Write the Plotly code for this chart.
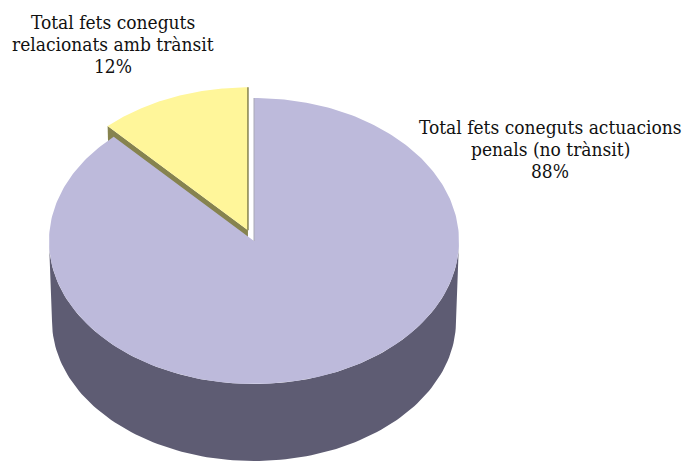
import math
import plotly.graph_objects as go

# Slices, clockwise from 12 o'clock
labels = ["Total fets coneguts actuacions<br>penals (no trànsit)",
          "Total fets coneguts<br>relacionats amb trànsit"]
values = [88, 12]
top_colors = ["#BDBADB", "#FFF69A"]
side_colors = ["#5E5C73", "#86834F"]
explode = [0.0, 0.08]

W, H = 687, 461
CX, CY = 254, 241          # centre of the top face
RX, RY = 205, 143          # top ellipse radii
DEPTH = 80                 # cylinder height
RXB, RYB = 202, 140        # slightly smaller bottom ellipse (perspective)


def pt(theta, cx, cy, rx, ry):
    t = math.radians(theta)
    return cx + rx * math.sin(t), cy - ry * math.cos(t)


def arc(a0, a1, cx, cy, rx, ry, n=120):
    xs, ys = [], []
    for i in range(n + 1):
        x, y = pt(a0 + (a1 - a0) * i / n, cx, cy, rx, ry)
        xs.append(x)
        ys.append(y)
    return xs, ys


total = sum(values)
angles = []
acc = 0.0
for v in values:
    a0 = acc / total * 360
    acc += v
    a1 = acc / total * 360
    angles.append((a0, a1))

fig = go.Figure()


def poly(xs, ys, color, line_color=None, lw=0):
    fig.add_trace(go.Scatter(
        x=xs + [xs[0]], y=ys + [ys[0]], mode="lines", fill="toself",
        fillcolor=color, line=dict(color=line_color or color, width=lw),
        hoverinfo="skip", showlegend=False))


def seg(x0, y0, x1, y1, color, lw=1):
    fig.add_trace(go.Scatter(
        x=[x0, x1], y=[y0, y1], mode="lines",
        line=dict(color=color, width=lw),
        hoverinfo="skip", showlegend=False))


# centres of each slice after exploding
centres = []
for (a0, a1), e in zip(angles, explode):
    mid = (a0 + a1) / 2
    dx, dy = pt(mid, 0, 0, RX * e, RY * e)
    centres.append((CX + dx, CY + dy))

# back slice (exploded, small) first
ya0, ya1 = angles[1]
ycx, ycy = centres[1]
ex, ey = pt(ya0, ycx, ycy, RX, RY)
bx, by = pt(ya0, ycx, ycy + DEPTH, RXB, RYB)
poly([ycx, ex, bx, ycx], [ycy, ey, by, ycy + DEPTH], side_colors[1])
xs, ys = arc(ya0, ya1, ycx, ycy, RX, RY)
poly([ycx] + xs, [ycy] + ys, top_colors[1])
tx, ty = pt(ya1, ycx, ycy, RX, RY)
seg(ycx, ycy, tx, ty, side_colors[1], 1.5)

# front slice: cylinder wall then top face
pa0, pa1 = angles[0]
pcx, pcy = centres[0]
xt, yt = arc(90, 270, pcx, pcy, RX, RY)
xb, yb = arc(270, 90, pcx, pcy + DEPTH, RXB, RYB)
poly(xt + xb, yt + yb, side_colors[0])
xs, ys = arc(pa0, pa1, pcx, pcy, RX, RY, n=300)
poly([pcx] + xs, [pcy] + ys, top_colors[0])
tx, ty = pt(pa0, pcx, pcy, RX, RY)
seg(pcx, pcy, tx, ty, "#A9A8B6", 1)

# data labels, one annotation per line for a tight line pitch
label_pos = [(550, 127), (113, 22)]
LINE_PITCH = 22
for lab, v, (lx, ly) in zip(labels, values, label_pos):
    lines = lab.split("<br>") + [f"{v / total * 100:.0f}%"]
    for i, line in enumerate(lines):
        fig.add_annotation(
            x=lx, y=ly + i * LINE_PITCH, xref="x", yref="y",
            showarrow=False, text=line, align="center",
            font=dict(family="DejaVu Serif Condensed, DejaVu Serif, serif",
                      size=19, color="#111111"))

fig.update_layout(
    width=W, height=H, margin=dict(l=0, r=0, t=0, b=0),
    paper_bgcolor="white", plot_bgcolor="white",
    xaxis=dict(range=[0, W], visible=False, fixedrange=True),
    yaxis=dict(range=[H, 0], visible=False, fixedrange=True),
)
fig.write_html("out.html")
